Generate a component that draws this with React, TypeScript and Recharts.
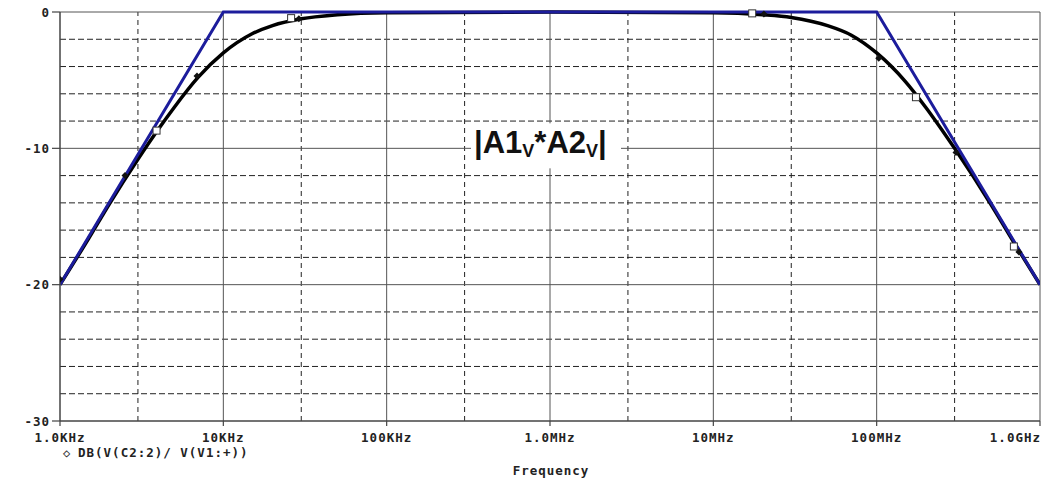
import React from 'react';
import {
  ComposedChart, Line, Scatter, XAxis, YAxis, ReferenceLine, ReferenceDot,
} from 'recharts';

// ---- data ----
const respFreq = [1e3, 1.5e3, 2e3, 3e3, 4e3, 5e3, 7e3, 1e4, 1.5e4, 2e4, 3e4, 5e4, 1e5, 1e6, 1e7, 2e7, 3e7, 5e7, 7e7, 1e8, 1.5e8, 2e8, 3e8, 5e8, 7e8, 1e9];
const respDb = [-20.0, -16.6, -14.1, -10.8, -8.6, -7.0, -4.8, -3.0, -1.6, -1.0, -0.5, -0.2, -0.05, 0, -0.05, -0.2, -0.4, -1.0, -1.7, -3.0, -5.1, -7.0, -10.0, -14.1, -17.0, -20.0];

const asymFreq = [1e3, 1e4, 1e8, 1e9];
const asymDb = [-20, 0, 0, -20];

const dotFreq = [1.0e3, 2.5e3, 6.9e3, 2.9e4, 2.04e7, 1.03e8, 3.06e8, 7.43e8];
const dotDb = [-19.6, -12.0, -4.7, -0.5, -0.15, -3.4, -10.3, -17.6];

const squareFreq = [3.9e3, 2.6e4, 1.73e7, 1.74e8, 6.92e8];
const squareDb = [-8.7, -0.45, -0.1, -6.25, -17.2];

const xTicks = [1e3, 1e4, 1e5, 1e6, 1e7, 1e8, 1e9];
const xTickLabels = ['1.0KHz', '10KHz', '100KHz', '1.0MHz', '10MHz', '100MHz', '1.0GHz'];
const xMinorGrid = [3e3, 3e4, 3e5, 3e6, 3e7, 3e8];
const yTicks = [-30, -20, -10, 0];
const yTickLabels = ['-30', '-20', '-10', '0'];
const yMinorGrid = [-2, -4, -6, -8, -12, -14, -16, -18, -22, -24, -26, -28];

const legendText = 'DB(V(C2:2)/ V(V1:+))';
const xTitle = 'Frequency';

const zip = (fs: number[], ds: number[]) => fs.map((f, i) => ({ f, db: ds[i] }));
const respData = zip(respFreq, respDb);
const asymData = zip(asymFreq, asymDb);
const dotData = zip(dotFreq, dotDb);
const squareData = zip(squareFreq, squareDb);

const MONO = '"DejaVu Sans Mono", monospace';
const BLUE = '#1c1c9c';

const XTick = (props: any) => {
  const { x, y, index } = props;
  const last = index === xTicks.length - 1;
  return (
    <text x={last ? x + 1 : x} y={y + 14} textAnchor={last ? 'end' : 'middle'}
      fontFamily={MONO} fontWeight="bold" fontSize={12.5} letterSpacing={1} fill="#222">
      {xTickLabels[index]}
    </text>
  );
};

const YTick = (props: any) => {
  const { x, y, index } = props;
  return (
    <text x={x} y={y + 4.5} textAnchor="end"
      fontFamily={MONO} fontWeight="bold" fontSize={12.5} letterSpacing={1} fill="#222">
      {yTickLabels[index]}
    </text>
  );
};

const Diamond = (props: any) => {
  const { cx, cy } = props;
  const s = 3.5;
  return <polygon points={`${cx},${cy - s} ${cx + s},${cy} ${cx},${cy + s} ${cx - s},${cy}`} fill="#111" />;
};

const Square = (props: any) => {
  const { cx, cy } = props;
  return <rect x={cx - 3.5} y={cy - 3.5} width={7} height={7} fill="#fff" stroke="#333" strokeWidth={1} />;
};

const AxisLabel = (props: any) => {
  const vb = props.viewBox || {};
  const top = vb.y ?? 421;
  return (
    <g>
      <text x={63} y={top + 36} fontFamily={MONO} fontSize={12} fill="#333">◇</text>
      <text x={78} y={top + 36} fontFamily={MONO} fontWeight="bold" fontSize={12.5} letterSpacing={1} fill="#222">{legendText}</text>
      <text x={551} y={top + 54} textAnchor="middle" fontFamily={MONO} fontWeight="bold" fontSize={12.5} letterSpacing={1} fill="#222">{xTitle}</text>
    </g>
  );
};

const Annotation = (props: any) => {
  const { cx, cy } = props;
  const ARIAL = '"Liberation Sans", Arial, sans-serif';
  return (
    <g>
      <rect x={cx - 79} y={cy - 25} width={150} height={45} fill="#fff" />
      <text x={cx - 76} y={cy + 5} fontFamily={ARIAL} fontWeight="bold" fontSize={31} fill="#111">
        <tspan>|A1</tspan>
        <tspan fontSize={18} dy={4}>V</tspan>
        <tspan dy={-4}>*A2</tspan>
        <tspan fontSize={18} dy={4}>V</tspan>
        <tspan dy={-4}>|</tspan>
      </text>
    </g>
  );
};

export default function App() {
  return (
    <div style={{ position: 'absolute', left: 0, top: 0, width: 1041, height: 478, background: '#fff' }}>
      <ComposedChart width={1041} height={478} margin={{ top: 12, right: 1, bottom: 0, left: 0 }}>
        <XAxis dataKey="f" type="number" scale="log" domain={[1e3, 1e9]} ticks={xTicks}
          allowDataOverflow interval={0} tick={<XTick />} tickSize={5}
          axisLine={{ stroke: '#444', strokeWidth: 1.5 }} tickLine={{ stroke: '#444', strokeWidth: 1.2 }}
          height={57} label={<AxisLabel />} />
        <YAxis type="number" domain={[-30, 0]} ticks={yTicks} interval={0} width={60}
          tick={<YTick />} tickSize={8}
          axisLine={{ stroke: '#444', strokeWidth: 1.5 }} tickLine={{ stroke: '#444', strokeWidth: 1.2 }} />

        {yMinorGrid.map((v) => (
          <ReferenceLine key={'hy' + v} y={v} stroke="#222" strokeWidth={1} strokeDasharray="6 3" />
        ))}
        {xMinorGrid.map((v) => (
          <ReferenceLine key={'vx' + v} x={v} stroke="#222" strokeWidth={1} strokeDasharray="5 4" />
        ))}
        {[-20, -10, 0].map((v) => (
          <ReferenceLine key={'my' + v} y={v} stroke="#555" strokeWidth={1} />
        ))}
        {[1e4, 1e5, 1e6, 1e7, 1e8, 1e9].map((v) => (
          <ReferenceLine key={'mx' + v} x={v} stroke="#555" strokeWidth={1} />
        ))}

        <ReferenceDot x={1e6} y={-10} r={0} shape={<Annotation />} />

        <Line data={respData} dataKey="db" type="monotone" stroke="#000" strokeWidth={3.5}
          dot={false} activeDot={false} isAnimationActive={false} />
        <Line data={asymData} dataKey="db" type="linear" stroke={BLUE} strokeWidth={3}
          dot={false} activeDot={false} isAnimationActive={false} />
        <Scatter data={dotData} dataKey="db" shape={<Diamond />} isAnimationActive={false} />
        <Scatter data={squareData} dataKey="db" shape={<Square />} isAnimationActive={false} />
      </ComposedChart>
    </div>
  );
}
